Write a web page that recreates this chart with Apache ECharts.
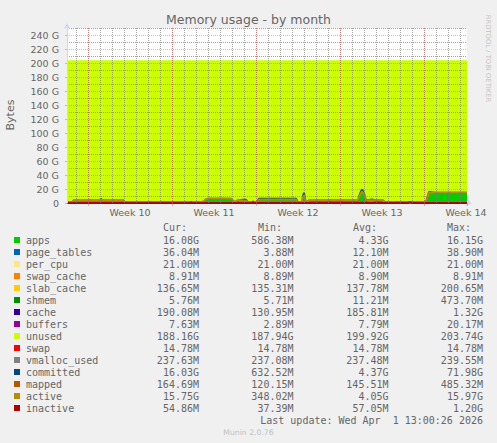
<!DOCTYPE html>
<html><head><meta charset="utf-8">
<script src="https://cdn.jsdelivr.net/npm/echarts@6/dist/echarts.min.js"></script>
<style>html,body{margin:0;padding:0;background:#f0f0f0;}#c{width:497px;height:443px;}</style>
</head><body><div id="c"></div>
<script>
// x values: hours since the left edge of the graph
const times =     [0,10,12,14,66,68,70,112,116,246,248,250,270,274,278,282,328,332,336,340,352,358,362,370,372,374,380,384,458,462,470,472,474,476,478,480,484,582,586,590,594,598,610,616,632,636,658,660,662,682,686,690,718,724,736,800];
// values in GiB
const apps =      [0.6,0.6,2.5,4.0,4.0,4.0,4.0,4.0,0.6,0.6,0.6,0.6,0.6,2.5,5.0,5.7,5.7,3.0,0.6,3.2,3.2,3.2,0.6,0.6,0.6,0.6,0.6,4.4,4.4,0.6,0.6,7.0,10.0,5.0,0.6,0.6,3.4,3.4,10.0,15.0,12.0,3.4,3.4,3.4,3.4,0.6,0.6,0.6,0.6,0.6,0.6,0.6,0.6,15.0,15.0,15.0];
const pageTables= [0.012,0.012,0.012,0.012,0.012,0.012,0.012,0.012,0.012,0.012,0.012,0.012,0.012,0.012,0.012,0.012,0.012,0.012,0.012,0.012,0.012,0.012,0.012,0.012,0.012,0.012,0.012,0.012,0.012,0.012,0.012,0.012,0.012,0.012,0.012,0.012,0.012,0.012,0.012,0.012,0.012,0.012,0.012,0.012,0.012,0.012,0.012,0.012,0.012,0.012,0.012,0.012,0.012,0.035,0.035,0.035];
const perCpu =    [0.021,0.021,0.021,0.021,0.021,0.021,0.021,0.021,0.021,0.021,0.021,0.021,0.021,0.021,0.021,0.021,0.021,0.021,0.021,0.021,0.021,0.021,0.021,0.021,0.021,0.021,0.021,0.021,0.021,0.021,0.021,0.021,0.021,0.021,0.021,0.021,0.021,0.021,0.021,0.021,0.021,0.021,0.021,0.021,0.021,0.021,0.021,0.021,0.021,0.021,0.021,0.021,0.021,0.021,0.021,0.021];
const swapCache = [0.009,0.009,0.009,0.009,0.009,0.009,0.009,0.009,0.009,0.009,0.009,0.009,0.009,0.009,0.009,0.009,0.009,0.009,0.009,0.009,0.009,0.009,0.009,0.009,0.009,0.009,0.009,0.009,0.009,0.009,0.009,0.009,0.009,0.009,0.009,0.009,0.009,0.009,0.009,0.009,0.009,0.009,0.009,0.009,0.009,0.009,0.009,0.009,0.009,0.009,0.009,0.009,0.009,0.009,0.009,0.009];
const slabCache = [0.135,0.135,0.135,0.135,0.135,0.135,0.135,0.135,0.135,0.135,0.135,0.135,0.135,0.135,0.135,0.135,0.135,0.135,0.135,0.135,0.135,0.135,0.135,0.135,0.135,0.135,0.135,0.135,0.135,0.135,0.135,0.135,0.196,0.135,0.135,0.135,0.135,0.135,0.135,0.196,0.135,0.135,0.135,0.135,0.135,0.135,0.135,0.135,0.135,0.135,0.135,0.135,0.135,0.133,0.133,0.133];
const shmem =     [0.006,0.006,0.006,0.006,0.006,0.006,0.006,0.006,0.006,0.006,0.006,0.006,0.006,0.006,0.006,0.006,0.006,0.006,0.006,0.006,0.006,0.006,0.006,0.006,0.006,0.006,0.006,0.006,0.006,0.006,0.006,0.006,0.006,0.006,0.006,0.006,0.006,0.006,0.006,0.006,0.006,0.006,0.006,0.006,0.006,0.006,0.006,0.006,0.006,0.006,0.006,0.006,0.006,0.006,0.006,0.006];
const cache =     [0.186,0.186,0.186,0.186,0.186,0.186,0.186,0.186,0.186,0.186,0.186,0.186,0.186,0.186,0.186,0.186,0.186,0.186,0.186,0.186,0.186,0.186,0.186,0.186,0.186,0.186,0.186,0.186,0.186,0.186,0.186,0.186,0.186,0.186,0.186,0.186,0.186,0.186,0.186,0.186,0.186,0.186,0.186,0.186,0.186,0.186,0.186,0.186,0.186,0.186,0.186,0.186,0.186,0.186,0.186,0.186];
const buffers =   [0.008,0.008,0.008,0.008,0.008,0.008,0.008,0.008,0.008,0.008,0.008,0.008,0.008,0.008,0.008,0.008,0.008,0.008,0.008,0.008,0.008,0.008,0.008,0.008,0.008,0.008,0.008,0.008,0.008,0.008,0.008,0.008,0.008,0.008,0.008,0.008,0.008,0.008,0.008,0.008,0.008,0.008,0.008,0.008,0.008,0.008,0.008,0.008,0.008,0.008,0.008,0.008,0.008,0.007,0.007,0.007];
const unused =    [203.0,203.0,201.1,199.6,199.6,199.6,199.6,199.6,203.0,203.0,203.0,203.0,203.0,201.1,198.6,197.9,197.9,200.6,203.0,200.4,200.4,200.4,203.0,203.0,203.0,203.0,203.0,199.2,199.2,203.0,203.0,196.6,193.6,198.6,203.0,203.0,200.2,200.2,193.6,188.6,191.6,200.2,200.2,200.2,200.2,203.0,203.0,203.0,203.0,203.0,203.0,203.0,203.0,188.6,188.6,188.6];
const swap =      [0.014,0.014,0.014,0.014,0.014,0.014,0.014,0.014,0.014,0.014,0.014,0.014,0.014,0.014,0.014,0.014,0.014,0.014,0.014,0.014,0.014,0.014,0.014,0.014,0.014,0.014,0.014,0.014,0.014,0.014,0.014,0.014,0.014,0.014,0.014,0.014,0.014,0.014,0.014,0.014,0.014,0.014,0.014,0.014,0.014,0.014,0.014,0.014,0.014,0.014,0.014,0.014,0.014,0.014,0.014,0.014];
const vmallocUsed=[0.232,0.232,0.232,0.232,0.232,0.232,0.232,0.232,0.232,0.232,0.232,0.232,0.232,0.232,0.232,0.232,0.232,0.232,0.232,0.232,0.232,0.232,0.232,0.232,0.232,0.232,0.232,0.232,0.232,0.232,0.232,0.232,0.232,0.232,0.232,0.232,0.232,0.232,0.232,0.232,0.232,0.232,0.232,0.232,0.232,0.232,0.232,0.232,0.232,0.232,0.232,0.232,0.232,0.232,0.232,0.232];
const committed = [0.65,0.65,2.6,4.2,4.2,5.8,4.2,4.2,0.65,0.65,1.8,0.65,0.65,2.6,5.2,5.9,5.9,3.1,0.65,3.3,4.6,4.6,0.65,0.65,2.0,0.65,0.65,6.1,6.1,0.65,0.65,9.5,14.5,6.0,0.65,0.65,3.6,3.6,13.0,19.5,14.0,3.6,5.0,3.6,3.6,0.65,0.65,1.4,0.65,0.65,0.65,0.65,0.65,15.8,14.5,14.5];
const mapped =    [0.14,0.14,0.14,0.15,0.15,0.15,0.15,0.15,0.14,0.14,0.14,0.14,0.14,0.14,0.15,0.15,0.15,0.14,0.14,0.14,0.14,0.14,0.14,0.14,0.14,0.14,0.14,0.15,0.15,0.14,0.14,0.2,0.25,0.2,0.14,0.14,0.14,0.14,0.3,0.45,0.3,0.14,0.14,0.14,0.14,0.14,0.14,0.14,0.14,0.14,0.48,0.14,0.14,0.16,0.16,0.16];
const active =    [0.36,0.36,2.7,4.4,4.4,4.4,4.4,4.4,0.36,0.36,0.36,0.36,0.36,2.7,5.4,6.1,6.1,3.2,0.36,3.5,3.5,3.5,0.36,0.36,0.36,0.36,0.36,4.9,4.9,0.36,0.36,8.0,11.0,5.5,0.36,0.36,4.0,4.0,11.0,16.5,12.5,4.0,4.0,4.0,4.0,0.36,0.36,0.36,0.36,0.36,0.36,0.36,0.36,14.5,14.5,14.5];
const inactive =  [0.05,0.05,0.05,0.05,0.05,0.05,0.05,0.05,0.05,0.05,0.05,0.05,0.05,0.05,0.05,0.05,0.05,0.05,0.05,0.05,0.05,0.05,0.05,0.05,0.05,0.05,0.05,0.05,0.05,0.05,0.05,0.06,0.08,0.06,0.05,0.05,0.05,0.05,0.1,0.2,0.1,0.05,0.05,0.05,0.05,0.05,0.05,0.05,0.05,0.05,1.2,0.05,0.05,0.05,0.05,0.05];

const weekLabels = ['Week 10','Week 11','Week 12','Week 13','Week 14'];
const yTicks = [0,20,40,60,80,100,120,140,160,180,200,220,240];

const legendNames = ['apps','page_tables','per_cpu','swap_cache','slab_cache','shmem','cache','buffers','unused','swap','vmalloc_used','committed','mapped','active','inactive'];
const legendColors = ['#00CC00','#0066B3','#FFE680','#FF8000','#FFCC00','#008F00','#330099','#990099','#CCFF00','#FF0000','#808080','#00487D','#B35A00','#B38F00','#B30000'];
const curVals = ['16.08G','36.04M','21.00M','8.91M','136.65M','5.76M','190.08M','7.63M','188.16G','14.78M','237.63M','16.03G','164.69M','15.75G','54.86M'];
const minVals = ['586.38M','3.88M','21.00M','8.89M','135.31M','5.71M','130.95M','2.89M','187.94G','14.78M','237.08M','632.52M','120.15M','348.02M','37.39M'];
const avgVals = ['4.33G','12.10M','21.00M','8.90M','137.78M','11.21M','185.81M','7.79M','199.92G','14.78M','237.48M','4.37G','145.51M','4.05G','57.05M'];
const maxVals = ['16.15G','38.90M','21.00M','8.91M','200.65M','473.70M','1.32G','20.17M','203.74G','14.78M','239.55M','71.98G','485.32M','15.97G','1.20G'];
const headers = ['Cur:','Min:','Avg:','Max:'];
const titleText = 'Memory usage - by month';
const lastUpdate = 'Last update: Wed Apr  1 13:00:26 2026';

const stacked = [
  ['apps', apps, '#00CC00'], ['page_tables', pageTables, '#0066B3'], ['per_cpu', perCpu, '#FFE680'],
  ['swap_cache', swapCache, '#FF8000'], ['slab_cache', slabCache, '#FFCC00'], ['shmem', shmem, '#008F00'],
  ['cache', cache, '#330099'], ['buffers', buffers, '#990099'], ['unused', unused, '#CCFF00'], ['swap', swap, '#FF0000']
];
const lines = [
  ['vmalloc_used', vmallocUsed, '#808080'], ['committed', committed, '#00487D'], ['mapped', mapped, '#B35A00'],
  ['active', active, '#B38F00'], ['inactive', inactive, '#B30000']
];

const HOUR = 3600 * 1000;
const chart = echarts.init(document.getElementById('c'), null, {renderer: 'svg'});
const FONT = '"DejaVu Sans", sans-serif';
const MONO = '"DejaVu Sans Mono", monospace';
const TXT = '#666666';
const minorCol = 'rgba(125,125,125,0.7)';
const majorCol = 'rgba(222,79,79,0.45)';
const minorGrid = {type: [1, 1], color: minorCol, width: 1};
const majorGrid = {type: [1, 1], color: majorCol, width: 1};
const axisBlue = '#CFD6F8';
const gTop = 28, gH = 175;

const series = [];
stacked.forEach(([name, arr, color]) => {
  series.push({
    type: 'line', name, stack: 'mem', xAxisIndex: 0, yAxisIndex: 0,
    data: times.map((t, i) => [t * HOUR, arr[i]]), symbol: 'none', showSymbol: false,
    lineStyle: {width: 0}, areaStyle: {color, opacity: 1}, itemStyle: {color}, z: 2
  });
});
lines.forEach(([name, arr, color]) => {
  series.push({
    type: 'line', name, xAxisIndex: 0, yAxisIndex: 0,
    data: times.map((t, i) => [t * HOUR, arr[i]]), symbol: 'none', showSymbol: false,
    lineStyle: {width: 2, color}, itemStyle: {color}, z: 2
  });
});

// minor grid (daily vertical lines, 10 G horizontal lines) drawn as mark lines
const minorMarks = [];
for (let h = 18; h < 800; h += 24) minorMarks.push({xAxis: h * HOUR});
for (let g = 10; g <= 250; g += 10) if (g % 20 !== 0) minorMarks.push({yAxis: g});
series.push({
  type: 'line', name: 'grid', xAxisIndex: 0, yAxisIndex: 0, data: [[0, 0]], symbol: 'none',
  lineStyle: {width: 0}, silent: true, z: 3,
  markLine: {symbol: 'none', silent: true, animation: false, label: {show: false},
    lineStyle: minorGrid, data: minorMarks}
});

const graphic = [];
graphic.push({type: 'text', x: 248.5, y: 19, style: {text: titleText, font: '12.5px ' + FONT, fill: TXT, align: 'center', verticalAlign: 'middle'}});
graphic.push({type: 'text', x: 10.5, y: 115, rotation: Math.PI / 2, style: {text: 'Bytes', font: '11px ' + FONT, fill: TXT, align: 'center', verticalAlign: 'middle'}});
graphic.push({type: 'text', x: 488, y: 58.5, rotation: -Math.PI / 2, style: {text: 'RRDTOOL / TOBI OETIKER', font: '6.8px ' + FONT, fill: '#c4c4c4', align: 'center', verticalAlign: 'middle'}});
const headerX = [163, 258, 353, 447];
headers.forEach((h, i) => graphic.push({type: 'text', x: headerX[i], y: 227, style: {text: h, font: '10px ' + MONO, fill: TXT, align: 'left', verticalAlign: 'middle'}}));
const colRight = [199, 293.5, 388.5, 483];
legendNames.forEach((name, i) => {
  const y = 240 + 12 * i;
  graphic.push({type: 'rect', shape: {x: 14, y: y - 3, width: 6, height: 6}, style: {fill: legendColors[i]}});
  graphic.push({type: 'text', x: 26, y, style: {text: name, font: '10px ' + MONO, fill: TXT, align: 'left', verticalAlign: 'middle'}});
  [curVals, minVals, avgVals, maxVals].forEach((col, j) => {
    graphic.push({type: 'text', x: colRight[j], y, style: {text: col[i], font: '10px ' + MONO, fill: TXT, align: 'right', verticalAlign: 'middle'}});
  });
});
graphic.push({type: 'text', x: 483, y: 420, style: {text: lastUpdate, font: '10px ' + MONO, fill: TXT, align: 'right', verticalAlign: 'middle'}});
graphic.push({type: 'text', x: 248.5, y: 432, style: {text: 'Munin 2.0.76', font: '7.7px ' + FONT, fill: '#c0c0c0', align: 'center', verticalAlign: 'middle'}});

chart.setOption({
  animation: false,
  backgroundColor: '#f0f0f0',
  grid: [
    {left: 67, top: gTop, width: 400, height: gH, show: true, backgroundColor: '#ffffff', borderWidth: 0},
    {left: 88, top: gTop, width: 379, height: gH},
    {left: 130, top: gTop, width: 336, height: gH}
  ],
  xAxis: [
    {gridIndex: 0, type: 'time', min: 0, max: 800 * HOUR, z: 1,
     axisLine: {show: true, lineStyle: {color: axisBlue, width: 1}, symbol: ['none', 'arrow'], symbolSize: [5, 6], symbolOffset: [0, 5]},
     axisTick: {show: false}, axisLabel: {show: false}, splitLine: {show: false}},
    {gridIndex: 1, type: 'value', min: 0, max: 758, interval: 168, z: 6,
     axisLine: {show: false}, axisTick: {show: true, inside: false, length: 3, lineStyle: {color: majorCol}}, axisLabel: {show: false},
     splitLine: {show: true, showMinLine: true, showMaxLine: false, lineStyle: majorGrid}},
    {gridIndex: 2, type: 'value', min: 0, max: 672, interval: 168, z: 6,
     axisLine: {show: false}, axisTick: {show: false}, splitLine: {show: false},
     axisLabel: {show: true, margin: 4, fontSize: 9.5, fontFamily: FONT, color: TXT,
       showMinLabel: true, showMaxLabel: true,
       formatter: (v) => weekLabels[Math.round(v / 168)] || ''}}
  ],
  yAxis: [
    {gridIndex: 0, type: 'value', min: 0, max: 250, interval: 20, z: 6,
     axisLine: {show: true, lineStyle: {color: axisBlue, width: 1}, symbol: ['none', 'arrow'], symbolSize: [5, 6], symbolOffset: [0, 5]},
     axisTick: {show: true, length: 2, lineStyle: {color: majorCol}},
     axisLabel: {show: true, margin: 8, fontSize: 9.5, fontFamily: FONT, color: TXT, showMaxLabel: false,
       formatter: (v) => yTicks.indexOf(v) < 0 ? '' : (v === 0 ? '0' : v + ' G')},
     splitLine: {show: true, showMinLine: false, showMaxLine: false, lineStyle: majorGrid}},
    {gridIndex: 1, type: 'value', min: 0, max: 1, axisLine: {show: false}, axisTick: {show: false}, axisLabel: {show: false}, splitLine: {show: false}},
    {gridIndex: 2, type: 'value', min: 0, max: 1, axisLine: {show: false}, axisTick: {show: false}, axisLabel: {show: false}, splitLine: {show: false}}
  ],
  series,
  graphic
});
</script></body></html>
